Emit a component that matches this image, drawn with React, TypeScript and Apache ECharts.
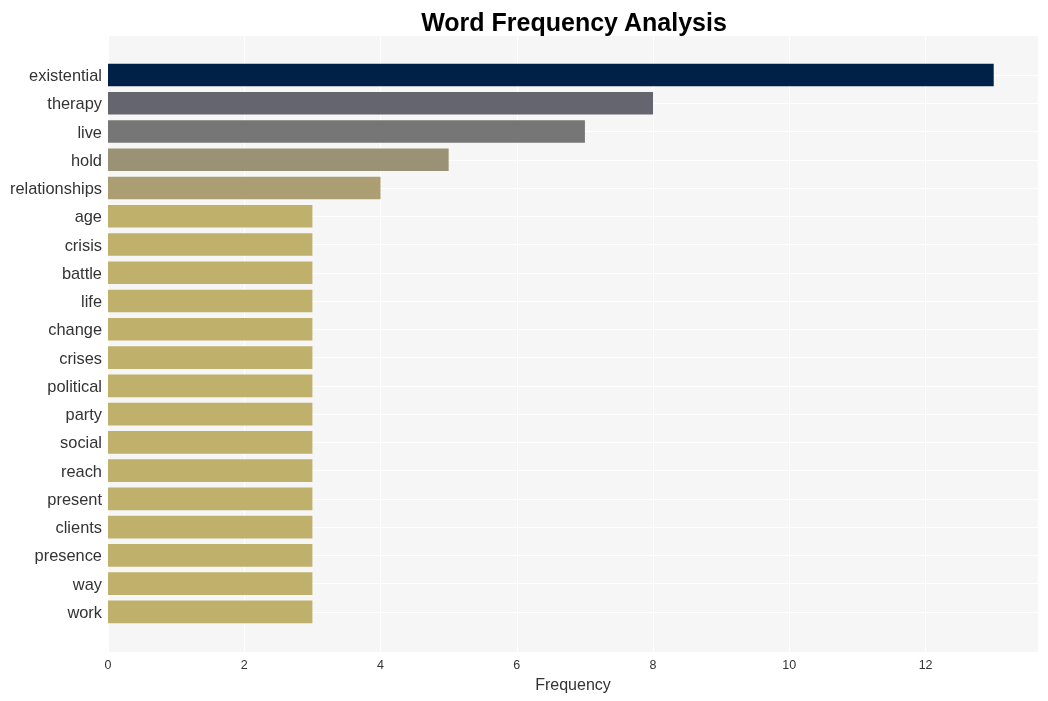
import React, { useEffect, useRef } from 'react';
import * as echarts from 'echarts';

const categories = [
  'existential', 'therapy', 'live', 'hold', 'relationships', 'age', 'crisis', 'battle', 'life', 'change',
  'crises', 'political', 'party', 'social', 'reach', 'present', 'clients', 'presence', 'way', 'work',
];
const frequencies = [13, 8, 7, 5, 4, 3, 3, 3, 3, 3, 3, 3, 3, 3, 3, 3, 3, 3, 3, 3];
const barColors = [
  '#002147', '#65656f', '#767676', '#9a9274', '#aa9e72',
  '#bfb06b', '#bfb06b', '#bfb06b', '#bfb06b', '#bfb06b',
  '#bfb06b', '#bfb06b', '#bfb06b', '#bfb06b', '#bfb06b',
  '#bfb06b', '#bfb06b', '#bfb06b', '#bfb06b', '#bfb06b',
];
const xMin = 0;
const xMax = 13.65;
const xInterval = 2;

const FONT = '"Liberation Sans", Arial, sans-serif';

export default function App() {
  const ref = useRef<HTMLDivElement>(null);
  useEffect(() => {
    const chart = echarts.init(ref.current!, null, { renderer: 'svg' });
    chart.setOption({
      animation: false,
      textStyle: { fontFamily: FONT },
      title: {
        text: 'Word Frequency Analysis',
        left: 569,
        textAlign: 'center',
        top: 4,
        textStyle: { fontFamily: FONT, fontSize: 25, fontWeight: 'bold', color: '#000' },
      },
      grid: [
        { left: 108, right: 10, top: 60.9, bottom: 75 },
        { left: 108, right: 10, top: 36, bottom: 49, show: true, backgroundColor: '#f6f6f6', borderWidth: 0, z: -1 },
      ],
      xAxis: [
        { gridIndex: 0, type: 'value', min: xMin, max: xMax, show: false },
        {
          gridIndex: 1,
          type: 'value',
          min: xMin,
          max: xMax,
          interval: xInterval,
          axisLine: { show: false },
          axisTick: { show: false },
          splitLine: { show: true, lineStyle: { color: '#ffffff', width: 1 } },
          axisLabel: { margin: 6, fontSize: 12.5, color: '#333', fontFamily: FONT, showMaxLabel: false },
          name: 'Frequency',
          nameLocation: 'middle',
          nameGap: 24,
          nameTextStyle: { fontSize: 16, color: '#333', fontFamily: FONT },
        },
      ],
      yAxis: [
        {
          gridIndex: 0,
          type: 'category',
          data: categories,
          inverse: true,
          axisLine: { show: false },
          axisTick: { show: false },
          splitLine: { show: false },
          axisLabel: { margin: 6, fontSize: 16.4, color: '#333', fontFamily: FONT },
        },
        { gridIndex: 1, type: 'value', show: false, min: 0, max: 1, splitLine: { show: false } },
      ],
      series: [
        {
          type: 'bar',
          xAxisIndex: 0,
          yAxisIndex: 0,
          barWidth: '80%',
          z: 3,
          data: frequencies.map((v, i) => ({ value: v, itemStyle: { color: barColors[i] } })),
          markLine: {
            silent: true,
            z: 1,
            symbol: 'none',
            label: { show: false },
            lineStyle: { color: '#ffffff', width: 1, type: 'solid' },
            data: categories.map((c) => ({ yAxis: c })),
          },
        },
      ],
    });
    return () => chart.dispose();
  }, []);
  return <div ref={ref} style={{ position: 'fixed', left: 0, top: 0, width: 1048, height: 701 }} />;
}
